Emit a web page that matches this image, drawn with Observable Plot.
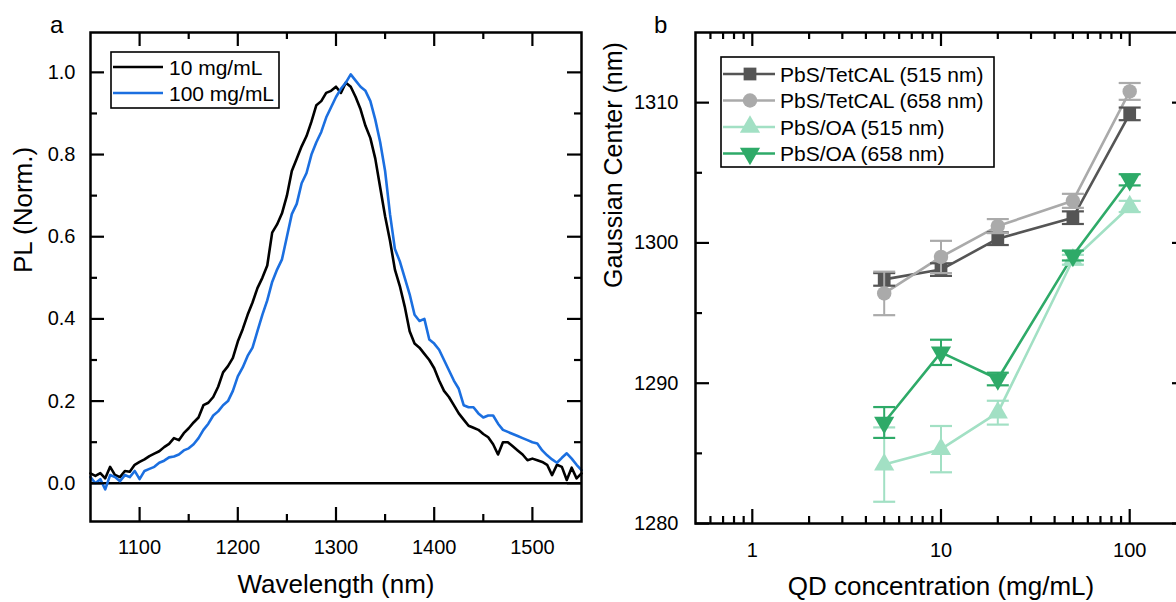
<!DOCTYPE html>
<html><head><meta charset="utf-8">
<script src="https://cdn.jsdelivr.net/npm/d3@7"></script>
<script src="https://cdn.jsdelivr.net/npm/@observablehq/plot@0.6"></script>
<style>
html,body{margin:0;padding:0;background:#fff;overflow:hidden;}
#wrap{position:relative;width:1176px;height:602px;overflow:hidden;background:#fff;}
.panel{position:absolute;top:0;width:600px;height:602px;}
.panel svg{max-width:none !important;}
#overlay{position:absolute;left:0;top:0;pointer-events:none;}
</style></head><body><div id="wrap"><div id="pa" class="panel" style="left:0px"></div><div id="pb" class="panel" style="left:600px"></div></div>
<script>
// ---------- Panel a data: PL spectra (5 nm steps) ----------
const wavelength = d3.range(1050, 1551, 5);
const pl10 = [0.024,0.018,0.025,0.012,0.040,0.020,0.015,0.030,0.028,0.045,
0.052,0.058,0.066,0.072,0.078,0.088,0.096,0.110,0.105,0.122,
0.134,0.148,0.160,0.190,0.196,0.210,0.235,0.270,0.285,0.305,
0.345,0.375,0.410,0.440,0.475,0.500,0.530,0.610,0.630,0.657,
0.700,0.760,0.790,0.820,0.845,0.880,0.920,0.930,0.950,0.955,
0.965,0.950,0.975,0.965,0.940,0.910,0.870,0.840,0.790,0.720,
0.650,0.590,0.520,0.480,0.430,0.370,0.340,0.330,0.315,0.300,
0.280,0.250,0.225,0.210,0.190,0.170,0.155,0.140,0.135,0.130,
0.120,0.112,0.095,0.070,0.100,0.100,0.090,0.080,0.070,0.056,
0.060,0.056,0.052,0.045,0.020,0.045,0.040,0.008,0.038,0.012,0.024];
const pl100 = [0.015,0.000,0.010,-0.015,0.020,0.015,0.005,0.020,0.015,0.030,
0.010,0.030,0.035,0.040,0.050,0.055,0.063,0.065,0.070,0.080,
0.085,0.095,0.110,0.130,0.145,0.165,0.175,0.190,0.200,0.225,
0.260,0.282,0.310,0.330,0.370,0.410,0.445,0.490,0.520,0.545,
0.600,0.655,0.680,0.730,0.755,0.800,0.830,0.855,0.890,0.915,
0.940,0.960,0.975,0.995,0.980,0.965,0.955,0.930,0.885,0.830,
0.760,0.655,0.570,0.540,0.500,0.460,0.410,0.395,0.400,0.350,
0.340,0.325,0.300,0.275,0.250,0.230,0.190,0.185,0.185,0.170,
0.160,0.165,0.165,0.145,0.130,0.125,0.120,0.115,0.110,0.105,
0.100,0.097,0.080,0.068,0.058,0.050,0.062,0.073,0.060,0.045,0.032];
const plSeries = ["10 mg/mL", "100 mg/mL"];
const plColors = ["#000000", "#1b6fe0"];
const aXMajor = [1100, 1200, 1300, 1400, 1500];
const aXMinor = [1150, 1250, 1350, 1450];
const aYMajor = [0, 0.2, 0.4, 0.6, 0.8, 1.0];
const aYMinor = [0.1, 0.3, 0.5, 0.7, 0.9];

// ---------- Panel b data: Gaussian centre vs QD concentration ----------
const conc = [5, 10, 20, 50, 100];
const tet515 = [1297.4, 1298.1, 1300.3, 1301.8, 1309.2];
const tet515Err = [0.45, 0.45, 0.45, 0.45, 0.45];
const tet658 = [1296.4, 1299.0, 1301.2, 1303.0, 1310.8];
const tet658Err = [1.55, 1.15, 0.5, 0.5, 0.6];
const oa515 = [1284.2, 1285.3, 1287.9, 1298.8, 1302.6];
const oa515Err = [2.65, 1.65, 0.85, 0.35, 0.4];
const oa658 = [1287.2, 1292.2, 1290.3, 1299.1, 1304.5];
const oa658Err = [1.1, 0.9, 0.45, 0.35, 0.4];
const bNames = ["PbS/TetCAL (515 nm)", "PbS/TetCAL (658 nm)", "PbS/OA (515 nm)", "PbS/OA (658 nm)"];
const bColors = ["#555555", "#aaaaaa", "#a2e0c4", "#2eaa68"];
const bXMajor = [1, 10, 100];
const bXMinor = [0.6, 0.7, 0.8, 0.9, 2, 3, 4, 5, 6, 7, 8, 9, 20, 30, 40, 50, 60, 70, 80, 90];
const bYMajor = [1280, 1290, 1300, 1310];
const bYMinor = [1285, 1295, 1305];

const FONT = '"Liberation Sans", Arial, Helvetica, sans-serif';
const MAJ = 14, MIN = 7;

// custom symbols
const sqrt3 = Math.sqrt(3);
const triDown = {draw(ctx, size) {
  const y = Math.sqrt(size / (sqrt3 * 3));
  ctx.moveTo(0, y * 2); ctx.lineTo(-sqrt3 * y, -y); ctx.lineTo(sqrt3 * y, -y); ctx.closePath();
}};
const capSym = {draw(ctx, size) {
  const w = Math.sqrt(size / Math.PI);
  ctx.moveTo(-w, 0); ctx.lineTo(w, 0);
}};
const bSymbols = [d3.symbolSquare, d3.symbolCircle, d3.symbolTriangle, triDown];

function tickMarks(xMaj, xMin, yMaj, yMin, fw, fh) {
  const sw = 2.2;
  return [
    Plot.ruleX(xMaj, {x: d => d, insetTop: fh - MAJ, strokeWidth: sw}),
    Plot.ruleX(xMaj, {x: d => d, insetBottom: fh - MAJ, strokeWidth: sw}),
    Plot.ruleX(xMin, {x: d => d, insetTop: fh - MIN, strokeWidth: sw}),
    Plot.ruleX(xMin, {x: d => d, insetBottom: fh - MIN, strokeWidth: sw}),
    Plot.ruleY(yMaj, {y: d => d, insetRight: fw - MAJ, strokeWidth: sw}),
    Plot.ruleY(yMaj, {y: d => d, insetLeft: fw - MAJ, strokeWidth: sw}),
    Plot.ruleY(yMin, {y: d => d, insetRight: fw - MIN, strokeWidth: sw}),
    Plot.ruleY(yMin, {y: d => d, insetLeft: fw - MIN, strokeWidth: sw})
  ];
}

// ---------- Panel a ----------
const aW = 600, aH = 602, aML = 90, aMR = 19, aMT = 32, aMB = 81;
const plRows = [];
wavelength.forEach((w, i) => {
  plRows.push({w, v: pl10[i], s: plSeries[0]});
});
wavelength.forEach((w, i) => {
  plRows.push({w, v: pl100[i], s: plSeries[1]});
});
const plotA = Plot.plot({
  width: aW, height: aH,
  marginLeft: aML, marginRight: aMR, marginTop: aMT, marginBottom: aMB,
  style: {fontFamily: FONT, fontSize: "20px", color: "#000", background: "#fff", maxWidth: "none"},
  x: {domain: [1050, 1550], axis: null},
  y: {domain: [-0.093, 1.097], axis: null},
  color: {domain: plSeries, range: plColors},
  marks: [
    Plot.ruleY([0], {strokeWidth: 2.5}),
    Plot.line(plRows, {x: "w", y: "v", z: "s", stroke: "s", strokeWidth: 2.6, strokeLinejoin: "round"}),
    Plot.frame({strokeWidth: 2.5}),
    ...tickMarks(aXMajor, aXMinor, aYMajor, aYMinor, aW - aML - aMR, aH - aMT - aMB),
    Plot.axisX(aXMajor, {anchor: "bottom", tickSize: 0, tickPadding: 18, fontSize: 20, label: null, tickFormat: d => String(d)}),
    Plot.axisY(aYMajor, {anchor: "left", tickSize: 0, tickPadding: 15, fontSize: 20, label: null, tickFormat: d3.format(".1f")}),
    Plot.text(["Wavelength (nm)"], {frameAnchor: "bottom", dy: 63, fontSize: 26, lineAnchor: "middle"}),
    Plot.text(["PL (Norm.)"], {frameAnchor: "left", dx: -67, dy: -4, rotate: -90, fontSize: 26, lineAnchor: "middle"})
  ]
});
document.getElementById("pa").appendChild(plotA);

// ---------- Panel b ----------
const bW = 600, bH = 602, bML = 95, bMR = 14, bMT = 32, bMB = 79;
const bVals = [tet515, tet658, oa515, oa658];
const bErrs = [tet515Err, tet658Err, oa515Err, oa658Err];
const bRows = [];
bNames.forEach((name, k) => {
  conc.forEach((c, i) => {
    bRows.push({c, v: bVals[k][i], e: bErrs[k][i], s: name, k});
  });
});
const bMarks = [];
bNames.forEach((name, k) => {
  const rows = bRows.filter(r => r.k === k);
  bMarks.push(Plot.line(rows, {x: "c", y: "v", stroke: bColors[k], strokeWidth: 2.6}));
});
bNames.forEach((name, k) => {
  const rows = bRows.filter(r => r.k === k);
  bMarks.push(
    Plot.ruleX(rows, {x: "c", y1: d => d.v - d.e, y2: d => d.v + d.e, stroke: bColors[k], strokeWidth: 2}),
    Plot.dot(rows, {x: "c", y: d => d.v - d.e, symbol: capSym, r: 11, fill: "none", stroke: bColors[k], strokeWidth: 2.2}),
    Plot.dot(rows, {x: "c", y: d => d.v + d.e, symbol: capSym, r: 11, fill: "none", stroke: bColors[k], strokeWidth: 2.2}),
    Plot.dot(rows, {x: "c", y: "v", symbol: bSymbols[k], r: k >= 2 ? 7.5 : 7.2, fill: bColors[k], stroke: "none"})
  );
});
const plotB = Plot.plot({
  width: bW, height: bH,
  marginLeft: bML, marginRight: bMR, marginTop: bMT, marginBottom: bMB,
  style: {fontFamily: FONT, fontSize: "20px", color: "#000", background: "transparent", maxWidth: "none"},
  x: {type: "log", domain: [0.5, 200], axis: null},
  y: {domain: [1280, 1315], axis: null},
  marks: [
    ...bMarks,
    Plot.frame({strokeWidth: 2.5}),
    ...tickMarks(bXMajor, bXMinor, bYMajor, bYMinor, bW - bML - bMR, bH - bMT - bMB),
    Plot.axisX(bXMajor, {anchor: "bottom", tickSize: 0, tickPadding: 19, fontSize: 20, label: null, tickFormat: d => String(d)}),
    Plot.axisY(bYMajor, {anchor: "left", tickSize: 0, tickPadding: 17, fontSize: 20, label: null, tickFormat: d => String(d)}),
    Plot.text(["QD concentration (mg/mL)"], {frameAnchor: "bottom", dy: 63, fontSize: 26, lineAnchor: "middle"}),
    Plot.text(["Gaussian Center (nm)"], {frameAnchor: "left", dx: -82, dy: 10, rotate: -90, fontSize: 25, lineAnchor: "middle"})
  ]
});
document.getElementById("pb").appendChild(plotB);

// ---------- Panel labels and legends (overlay) ----------
const ov = d3.select("#wrap").append("svg").attr("id", "overlay")
  .attr("width", 1176).attr("height", 602)
  .style("font-family", FONT);
ov.append("text").attr("x", 50).attr("y", 33).attr("font-size", 24).text("a");
ov.append("text").attr("x", 654).attr("y", 33).attr("font-size", 24).text("b");

// legend a
ov.append("rect").attr("x", 111).attr("y", 52).attr("width", 168).attr("height", 56)
  .attr("fill", "#fff").attr("stroke", "#000").attr("stroke-width", 1.6);
plSeries.forEach((s, i) => {
  const y = 67 + i * 26;
  ov.append("line").attr("x1", 113).attr("x2", 163).attr("y1", y).attr("y2", y)
    .attr("stroke", plColors[i]).attr("stroke-width", 2.6);
  ov.append("text").attr("x", 169).attr("y", y + 7.5).attr("font-size", 21).text(s);
});

// legend b
ov.append("rect").attr("x", 721).attr("y", 57).attr("width", 273).attr("height", 110)
  .attr("fill", "#fff").attr("stroke", "#000").attr("stroke-width", 1.6);
bNames.forEach((s, k) => {
  const y = 74 + k * 26.5;
  ov.append("line").attr("x1", 723).attr("x2", 775).attr("y1", y).attr("y2", y)
    .attr("stroke", bColors[k]).attr("stroke-width", 2.6);
  const r = k >= 2 ? 7.5 : 7.2;
  ov.append("path").attr("transform", `translate(750,${y})`)
    .attr("d", d3.symbol(bSymbols[k], Math.PI * r * r)())
    .attr("fill", bColors[k]);
  ov.append("text").attr("x", 780).attr("y", y + 7.5).attr("font-size", 21).text(s);
});
</script></body></html>
